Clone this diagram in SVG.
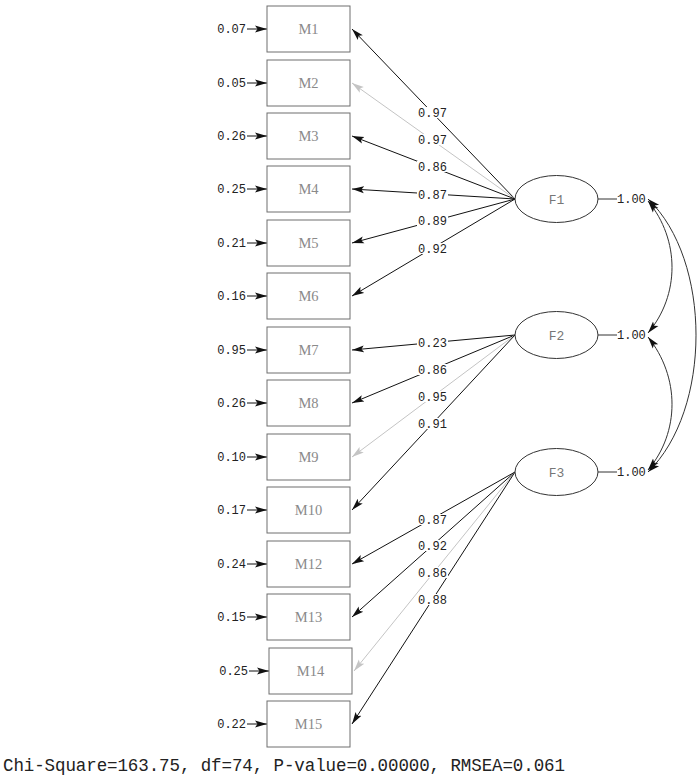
<svg xmlns="http://www.w3.org/2000/svg" width="700" height="776" viewBox="0 0 700 776">
<style>
.box{fill:#fff;stroke:#6e6e6e;stroke-width:1}
.bl{font-family:"Liberation Serif",serif;font-size:14.5px;fill:#8a8a8a;text-anchor:middle}
.num{font-family:"Liberation Mono",monospace;font-size:12px;fill:#222}
.el{fill:#fff;stroke:#333;stroke-width:1}
.fl{font-family:"Liberation Mono",monospace;font-size:13px;fill:#777;text-anchor:middle}
.ln{stroke:#111;stroke-width:1;fill:none;marker-end:url(#ah)}
.lg{stroke:#c4c4c4;stroke-width:1;fill:none;marker-end:url(#ahg)}
.cv{stroke:#333;stroke-width:1;fill:none;marker-end:url(#ah);marker-start:url(#ahs)}
.lb{fill:#fff}
</style>
<defs>
<marker id="ah" markerUnits="userSpaceOnUse" markerWidth="14" markerHeight="10" refX="12" refY="5" orient="auto"><path d="M0,1.5 L12,5 L0,8.5 L2.5,5 Z" fill="#111"/></marker>
<marker id="ahs" markerUnits="userSpaceOnUse" markerWidth="14" markerHeight="10" refX="12" refY="5" orient="auto-start-reverse"><path d="M0,1.5 L12,5 L0,8.5 L2.5,5 Z" fill="#111"/></marker>
<marker id="ahg" markerUnits="userSpaceOnUse" markerWidth="14" markerHeight="10" refX="12" refY="5" orient="auto"><path d="M0,1.5 L12,5 L0,8.5 L2.5,5 Z" fill="#c4c4c4"/></marker>
</defs>

<g id="connectors">
<line class="ln" x1="247" y1="29" x2="267" y2="29"/>
<line class="ln" x1="247" y1="83" x2="267" y2="83"/>
<line class="ln" x1="247" y1="136" x2="267" y2="136"/>
<line class="ln" x1="247" y1="189" x2="267" y2="189"/>
<line class="ln" x1="247" y1="243" x2="267" y2="243"/>
<line class="ln" x1="247" y1="296" x2="267" y2="296"/>
<line class="ln" x1="247" y1="350" x2="267" y2="350"/>
<line class="ln" x1="247" y1="403" x2="267" y2="403"/>
<line class="ln" x1="247" y1="457" x2="267" y2="457"/>
<line class="ln" x1="247" y1="510" x2="267" y2="510"/>
<line class="ln" x1="247" y1="564" x2="267" y2="564"/>
<line class="ln" x1="247" y1="617" x2="267" y2="617"/>
<line class="ln" x1="249" y1="671" x2="269" y2="671"/>
<line class="ln" x1="247" y1="724" x2="267" y2="724"/>
<line class="ln" x1="515" y1="199" x2="352" y2="29"/>
<line class="lg" x1="515" y1="199" x2="352" y2="83"/>
<line class="ln" x1="515" y1="199" x2="352" y2="136"/>
<line class="ln" x1="515" y1="199" x2="352" y2="189"/>
<line class="ln" x1="515" y1="199" x2="352" y2="243"/>
<line class="ln" x1="515" y1="199" x2="352" y2="296"/>
<line class="ln" x1="515" y1="335" x2="352" y2="350"/>
<line class="ln" x1="515" y1="335" x2="352" y2="403"/>
<line class="lg" x1="515" y1="335" x2="352" y2="457"/>
<line class="ln" x1="515" y1="335" x2="352" y2="510"/>
<line class="ln" x1="515" y1="472" x2="352" y2="564"/>
<line class="ln" x1="515" y1="472" x2="352" y2="617"/>
<line class="lg" x1="515" y1="472" x2="354" y2="671"/>
<line class="ln" x1="515" y1="472" x2="352" y2="724"/>
<g class="num" text-anchor="middle">
<rect class="lb" x="417" y="107" width="31" height="11"/><text x="432.5" y="117">0.97</text>
<rect class="lb" x="417" y="134" width="31" height="11"/><text x="432.5" y="144">0.97</text>
<rect class="lb" x="417" y="161" width="31" height="11"/><text x="432.5" y="171">0.86</text>
<rect class="lb" x="417" y="189" width="31" height="11"/><text x="432.5" y="199">0.87</text>
<rect class="lb" x="417" y="215" width="31" height="11"/><text x="432.5" y="225">0.89</text>
<rect class="lb" x="417" y="243" width="31" height="11"/><text x="432.5" y="253">0.92</text>
<rect class="lb" x="417" y="337" width="31" height="11"/><text x="432.5" y="347">0.23</text>
<rect class="lb" x="417" y="364" width="31" height="11"/><text x="432.5" y="374">0.86</text>
<rect class="lb" x="417" y="391" width="31" height="11"/><text x="432.5" y="401">0.95</text>
<rect class="lb" x="417" y="418" width="31" height="11"/><text x="432.5" y="428">0.91</text>
<rect class="lb" x="417" y="514" width="31" height="11"/><text x="432.5" y="524">0.87</text>
<rect class="lb" x="417" y="540" width="31" height="11"/><text x="432.5" y="550">0.92</text>
<rect class="lb" x="417" y="567" width="31" height="11"/><text x="432.5" y="577">0.86</text>
<rect class="lb" x="417" y="594" width="31" height="11"/><text x="432.5" y="604">0.88</text>
</g>
<line x1="598" y1="199" x2="617" y2="199" stroke="#333"/>
<line x1="598" y1="335" x2="617" y2="335" stroke="#333"/>
<line x1="598" y1="472" x2="617" y2="472" stroke="#333"/>
<path class="cv" d="M648,201 C680,240 680,295 648,333"/>
<path class="cv" d="M648,337 C680,377 680,432 648,470"/>
<path class="cv" d="M648,199 C712,260 712,410 648,472"/>
</g>

<g class="num" text-anchor="start">
<text x="617" y="203">1.00</text>
<text x="617" y="339">1.00</text>
<text x="617" y="476">1.00</text>
</g>

<g id="M1"><rect class="box" x="267" y="6" width="83" height="46"/><text class="bl" x="308.5" y="34">M1</text><text class="num" x="246" y="33" text-anchor="end">0.07</text></g>
<g id="M2"><rect class="box" x="267" y="60" width="83" height="46"/><text class="bl" x="308.5" y="88">M2</text><text class="num" x="246" y="87" text-anchor="end">0.05</text></g>
<g id="M3"><rect class="box" x="267" y="113" width="83" height="46"/><text class="bl" x="308.5" y="141">M3</text><text class="num" x="246" y="140" text-anchor="end">0.26</text></g>
<g id="M4"><rect class="box" x="267" y="166" width="83" height="46"/><text class="bl" x="308.5" y="194">M4</text><text class="num" x="246" y="193" text-anchor="end">0.25</text></g>
<g id="M5"><rect class="box" x="267" y="220" width="83" height="46"/><text class="bl" x="308.5" y="248">M5</text><text class="num" x="246" y="247" text-anchor="end">0.21</text></g>
<g id="M6"><rect class="box" x="267" y="273" width="83" height="46"/><text class="bl" x="308.5" y="301">M6</text><text class="num" x="246" y="300" text-anchor="end">0.16</text></g>
<g id="M7"><rect class="box" x="267" y="327" width="83" height="46"/><text class="bl" x="308.5" y="355">M7</text><text class="num" x="246" y="354" text-anchor="end">0.95</text></g>
<g id="M8"><rect class="box" x="267" y="380" width="83" height="46"/><text class="bl" x="308.5" y="408">M8</text><text class="num" x="246" y="407" text-anchor="end">0.26</text></g>
<g id="M9"><rect class="box" x="267" y="434" width="83" height="46"/><text class="bl" x="308.5" y="462">M9</text><text class="num" x="246" y="461" text-anchor="end">0.10</text></g>
<g id="M10"><rect class="box" x="267" y="487" width="83" height="46"/><text class="bl" x="308.5" y="515">M10</text><text class="num" x="246" y="514" text-anchor="end">0.17</text></g>
<g id="M12"><rect class="box" x="267" y="541" width="83" height="46"/><text class="bl" x="308.5" y="569">M12</text><text class="num" x="246" y="568" text-anchor="end">0.24</text></g>
<g id="M13"><rect class="box" x="267" y="594" width="83" height="46"/><text class="bl" x="308.5" y="622">M13</text><text class="num" x="246" y="621" text-anchor="end">0.15</text></g>
<g id="M14"><rect class="box" x="269" y="648" width="83" height="46"/><text class="bl" x="310.5" y="676">M14</text><text class="num" x="248" y="675" text-anchor="end">0.25</text></g>
<g id="M15"><rect class="box" x="267" y="701" width="83" height="46"/><text class="bl" x="308.5" y="729">M15</text><text class="num" x="246" y="728" text-anchor="end">0.22</text></g>

<g id="F1"><ellipse class="el" cx="556.5" cy="199" rx="41.5" ry="23.5"/><text class="fl" x="556.5" y="203.5">F1</text></g>
<g id="F2"><ellipse class="el" cx="556.5" cy="335" rx="41.5" ry="23.5"/><text class="fl" x="556.5" y="339.5">F2</text></g>
<g id="F3"><ellipse class="el" cx="556.5" cy="472" rx="41.5" ry="23.5"/><text class="fl" x="556.5" y="476.5">F3</text></g>

<text x="3" y="771" font-family="Liberation Mono, monospace" font-size="17.5" fill="#222" textLength="562">Chi-Square=163.75, df=74, P-value=0.00000, RMSEA=0.061</text>
</svg>
